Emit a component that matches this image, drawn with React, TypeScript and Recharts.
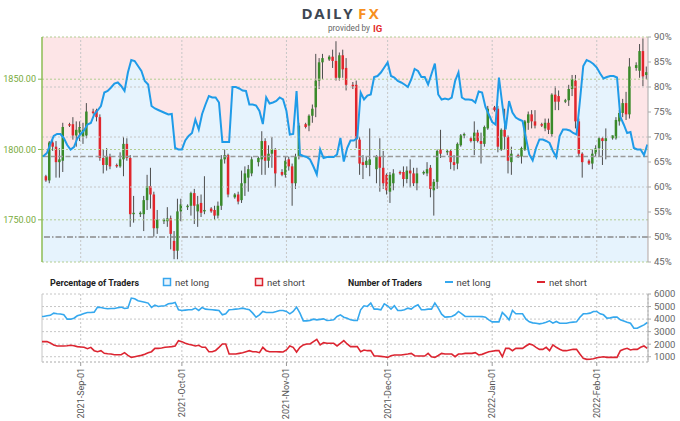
import React from 'react';
import {
  ComposedChart, Bar, Line, Area, XAxis, YAxis, CartesianGrid, ReferenceLine,
} from 'recharts';

// ---------- DATA ----------
const CANDLE_DATES = [
  '2021-08-22','2021-08-23','2021-08-24','2021-08-25','2021-08-26','2021-08-27',
  '2021-08-29','2021-08-30','2021-08-31','2021-09-01','2021-09-02','2021-09-03',
  '2021-09-05','2021-09-06','2021-09-07','2021-09-08','2021-09-09','2021-09-10',
  '2021-09-12','2021-09-13','2021-09-14','2021-09-15','2021-09-16','2021-09-17',
  '2021-09-19','2021-09-20','2021-09-21','2021-09-22','2021-09-23','2021-09-24',
  '2021-09-26','2021-09-27','2021-09-28','2021-09-29','2021-09-30','2021-10-01',
  '2021-10-03','2021-10-04','2021-10-05','2021-10-06','2021-10-07','2021-10-08',
  '2021-10-10','2021-10-11','2021-10-12','2021-10-13','2021-10-14','2021-10-15',
  '2021-10-17','2021-10-18','2021-10-19','2021-10-20','2021-10-21','2021-10-22',
  '2021-10-24','2021-10-25','2021-10-26','2021-10-27','2021-10-28','2021-10-29',
  '2021-10-31','2021-11-01','2021-11-02','2021-11-03','2021-11-04','2021-11-05',
  '2021-11-07','2021-11-08','2021-11-09','2021-11-10','2021-11-11','2021-11-12',
  '2021-11-14','2021-11-15','2021-11-16','2021-11-17','2021-11-18','2021-11-19',
  '2021-11-21','2021-11-22','2021-11-23','2021-11-24','2021-11-25','2021-11-26',
  '2021-11-28','2021-11-29','2021-11-30','2021-12-01','2021-12-02','2021-12-03',
  '2021-12-05','2021-12-06','2021-12-07','2021-12-08','2021-12-09','2021-12-10',
  '2021-12-12','2021-12-13','2021-12-14','2021-12-15','2021-12-16','2021-12-17',
  '2021-12-19','2021-12-20','2021-12-21','2021-12-22','2021-12-23','2021-12-24',
  '2021-12-26','2021-12-27','2021-12-28','2021-12-29','2021-12-30','2021-12-31',
  '2022-01-02','2022-01-03','2022-01-04','2022-01-05','2022-01-06','2022-01-07',
  '2022-01-09','2022-01-10','2022-01-11','2022-01-12','2022-01-13','2022-01-14',
  '2022-01-16','2022-01-17','2022-01-18','2022-01-19','2022-01-20','2022-01-21',
  '2022-01-23','2022-01-24','2022-01-25','2022-01-26','2022-01-27','2022-01-28',
  '2022-01-30','2022-01-31','2022-02-01','2022-02-02','2022-02-03','2022-02-04',
  '2022-02-06','2022-02-07','2022-02-08','2022-02-09','2022-02-10','2022-02-11',
  '2022-02-13','2022-02-14','2022-02-15','2022-02-16',
];
const OPEN = [
  1781,1778,1805,1802,1791,1792, 1818,1818,1810,1812,1809,1810, 1827,1828,1823,1794,1789,1795,
  1789,1788,1793,1804,1794,1754, 1754,1754,1764,1774,1768,1744, 1749,1749,1751,1735,1728,1756,
  1759,1760,1769,1756,1762,1756, 1758,1757,1753,1760,1793,1796, 1766,1768,1764,1776,1780,1783,
  1791,1793,1806,1792,1797,1800, 1784,1782,1793,1788,1776,1795, 1818,1817,1824,1830,1849,1862,
  1864,1866,1863,1851,1867,1858, 1846,1846,1807,1791,1789,1789, 1786,1795,1787,1782,1770,1776,
  1784,1784,1779,1785,1783,1776, 1783,1783,1787,1771,1777,1800, 1798,1799,1791,1790,1803,1810,
  1808,1806,1812,1806,1804,1815, 1830,1829,1800,1814,1809,1791, 1796,1795,1800,1819,1825,1820,
  1818,1815,1819,1811,1839,1838, 1834,1835,1843,1849,1820,1797, 1792,1790,1797,1801,1808,1806,
  1808,1808,1820,1826,1833,1825, 1858,1856,1870,1853,
];
const HIGH = [
  1782,1806,1807,1806,1801,1819, 1819,1823,1820,1820,1819,1833, 1829,1829,1825,1800,1801,1797,
  1790,1798,1809,1808,1796,1767, 1756,1767,1782,1787,1770,1757, 1751,1759,1753,1742,1765,1765,
  1761,1770,1772,1767,1768,1781, 1759,1760,1763,1796,1800,1797, 1769,1770,1785,1788,1789,1795,
  1795,1813,1808,1803,1809,1801, 1786,1795,1795,1790,1797,1819, 1819,1825,1832,1868,1865,1868,
  1867,1871,1877,1869,1871,1865, 1848,1849,1809,1796,1795,1815, 1796,1808,1799,1783,1784,1786,
  1785,1788,1788,1793,1787,1787, 1785,1791,1789,1779,1800,1814, 1800,1800,1796,1805,1811,1812,
  1809,1820,1814,1812,1817,1831, 1831,1831,1815,1829,1810,1802, 1797,1802,1821,1827,1828,1828,
  1819,1822,1822,1840,1845,1842, 1836,1846,1853,1853,1822,1798, 1793,1800,1803,1809,1809,1815,
  1810,1823,1828,1836,1841,1865, 1862,1875,1879,1859,
];
const LOW = [
  1777,1776,1799,1780,1780,1784, 1816,1807,1802,1806,1804,1808, 1825,1820,1792,1783,1785,1786,
  1787,1787,1781,1792,1745,1748, 1752,1742,1757,1758,1738,1740, 1747,1745,1729,1722,1722,1749,
  1757,1753,1747,1745,1752,1754, 1755,1750,1751,1757,1790,1766, 1765,1761,1762,1767,1770,1781,
  1788,1782,1782,1787,1787,1773, 1781,1780,1785,1760,1772,1793, 1815,1813,1819,1823,1843,1850,
  1863,1858,1849,1849,1851,1842, 1843,1801,1782,1779,1787,1781, 1776,1770,1772,1768,1762,1771,
  1782,1773,1776,1773,1774,1771, 1782,1781,1766,1753,1772,1794, 1796,1786,1785,1786,1802,1808,
  1805,1796,1805,1790,1802,1814, 1827,1798,1799,1800,1783,1782, 1794,1790,1799,1814,1815,1815,
  1816,1813,1811,1809,1828,1828, 1833,1831,1838,1815,1795,1780, 1789,1786,1795,1795,1789,1793,
  1807,1807,1817,1823,1821,1822, 1856,1851,1845,1850,
];
const CLOSE = [
  1778,1805,1802,1791,1793,1816, 1817,1810,1814,1816,1814,1827, 1826,1823,1794,1789,1795,1788,
  1788,1793,1804,1794,1754,1755, 1755,1764,1774,1768,1744,1750, 1750,1751,1740,1728,1756,1761,
  1760,1769,1760,1761,1755,1757, 1756,1753,1760,1793,1796,1768, 1768,1763,1776,1783,1786,1793,
  1794,1806,1792,1797,1800,1783, 1782,1792,1788,1776,1795,1817, 1816,1824,1829,1849,1862,1865,
  1866,1863,1851,1867,1857,1846, 1845,1807,1790,1789,1792,1793, 1795,1787,1776,1771,1782,1783,
  1783,1779,1785,1783,1776,1783, 1784,1786,1772,1777,1799,1797, 1799,1791,1789,1804,1810,1811,
  1806,1812,1806,1804,1816,1829, 1828,1802,1814,1809,1792,1797, 1795,1801,1820,1825,1820,1817,
  1817,1819,1814,1839,1834,1834, 1835,1843,1850,1820,1797,1791, 1790,1797,1801,1808,1806,1808,
  1810,1821,1826,1833,1825,1859, 1860,1870,1852,1855,
];

// daily sentiment series, one value per calendar day starting at SENT_START
const SENT_START = '2021-08-20';
const NET_LONG_PCT = [
  66.2,66.2,66.8,68.6,70.2,70.6,70.6,69.8,68.4,67.5,68.0,69.7,
  70.6,71.3,72.5,72.8,74.5,75.3,76.2,78.9,79.2,79.9,
  80.7,80.9,80.2,79.2,82.9,85.4,85.2,84.2,83.2,81.2,
  80.5,76.2,75.7,75.4,75.1,74.8,74.5,74.6,67.8,67.5,
  67.5,69.3,70.2,70.8,73.5,71.5,74.6,76.5,78.2,77.9,
  77.9,76.9,69.0,69.0,69.0,80.0,80.0,79.7,79.3,79.2,
  76.5,76.5,76.3,75.2,72.6,77.9,76.7,76.9,77.2,77.9,
  77.5,75.2,70.5,70.6,79.2,66.5,66.2,66.0,65.5,64.1,
  62.5,67.5,65.8,66.0,66.0,66.0,66.5,69.8,65.1,67.8,
  69.3,69.3,69.8,78.9,77.5,78.3,78.5,82.0,82.2,82.9,
  83.9,84.9,82.2,81.9,81.2,80.9,80.5,80.0,81.5,83.6,
  83.2,82.0,82.0,80.5,82.6,84.7,78.5,77.5,77.7,77.5,
  77.9,81.2,82.9,77.9,77.5,77.5,77.4,76.9,79.1,78.9,
  76.0,74.5,73.0,72.5,81.9,76.5,71.5,77.2,74.9,73.9,
  73.5,73.2,69.8,66.5,65.3,67.8,69.5,69.5,69.2,68.8,
  67.2,66.0,70.2,71.5,71.5,71.3,70.8,70.5,77.2,84.2,
  85.4,85.1,84.6,83.9,82.7,81.7,82.0,82.2,82.2,81.9,
  74.0,72.5,70.8,71.0,67.8,67.5,67.5,66.4,68.5,
];
const LONG_COUNT = [
  4207,4207,4261,4300,4474,4421,4400,4341,3994,3994,4074,4261,
  4341,4450,4528,4528,4555,4955,4928,4870,4822,4840,
  4848,4900,4955,4848,4875,5676,5623,5463,5409,5350,
  5276,4928,5115,5009,5040,5062,5222,5250,5329,4741,
  4688,4715,4741,4741,4875,4688,4928,4795,4770,4741,
  4715,4688,4341,4421,4741,4760,4795,4830,4875,4800,
  4741,4474,4154,4341,4608,4528,4528,4528,4600,4688,
  4688,4608,4421,4608,4955,4474,3860,3860,3900,3994,
  3940,3980,4020,3887,3910,3940,4207,4341,4154,4074,
  3940,3900,3887,4741,5062,5009,5276,4795,4795,4741,
  5222,5062,4795,5062,4688,4688,4741,4875,4795,5009,
  5142,4741,4741,4795,4795,5276,4875,4394,4154,4180,
  4207,4341,4608,4421,4207,4207,4207,4207,4207,4200,
  4154,3940,3780,3780,3780,4528,4261,3940,4688,4421,
  4421,4421,3994,3780,3700,3673,3620,3673,3750,3860,
  3673,3807,3673,3673,3673,3727,3760,3780,4154,4421,
  4421,4474,4608,4608,4421,4341,4074,4100,4154,4154,
  3940,3850,3753,3673,3272,3272,3406,3540,3727,
];
const SHORT_COUNT = [
  2204,2204,2204,2100,1938,1857,1857,1857,1880,1910,1870,1804,
  1780,1750,1644,1750,1483,1403,1483,1270,1240,1216,
  1163,1163,1163,1323,1109,949,1000,1056,1109,1200,
  1323,1403,1670,1670,1700,1750,1780,1804,1857,2284,
  2204,2070,2000,1938,1857,1910,1750,1750,1403,1403,
  1500,1750,2017,2017,1216,1216,1216,1270,1323,1400,
  1483,1403,1403,1323,1750,1483,1403,1403,1403,1390,
  1376,1537,1857,1750,1376,1750,1938,2017,2017,2204,
  2391,1938,2124,2070,2070,2070,1857,2070,2284,2017,
  1804,1804,1804,1403,1537,1483,1483,1056,1056,1030,
  1002,949,1082,1136,1136,1136,1180,1216,1270,1082,
  1056,1056,1056,1270,1002,949,1100,1270,1216,1216,
  1216,1002,1216,1216,1270,1270,1270,1323,1136,1189,
  1300,1403,1440,1483,1483,1002,1670,1670,1483,1670,
  1670,1670,1857,2017,1938,1750,1590,1590,1750,1483,
  1938,1750,1600,1483,1483,1540,1590,1590,1216,869,
  789,800,842,922,960,1002,949,949,949,949,
  1483,1600,1670,1537,1590,1590,1750,1857,1670,
];

const MONTH_DATES = ['2021-09-01','2021-10-01','2021-11-01','2021-12-01','2022-01-01','2022-02-01'];
const MONTH_LABELS = ['2021-Sep-01','2021-Oct-01','2021-Nov-01','2021-Dec-01','2022-Jan-01','2022-Feb-01'];
const PRICE_TICKS = [1750, 1800, 1850];
const PCT_TICKS = [45, 50, 55, 60, 65, 70, 75, 80, 85, 90];
const PCT_GRID = [80, 70, 60];
const COUNT_TICKS = [1000, 2000, 3000, 4000, 5000, 6000];
const NEUTRAL_PCT = 50;
const MARKER_PCT = 66.1;

// ---------- helpers ----------
const DAY0 = Date.UTC(2021, 8, 1);
const dayNum = (s: string) => {
  const [y, m, d] = s.split('-').map(Number);
  return (Date.UTC(y, m - 1, d) - DAY0) / 86400000;
};
const X_MIN = -11.47;
const X_MAX = 168.19;

const candles = CANDLE_DATES.map((d, i) => ({
  t: dayNum(d) - 0.3,
  range: [LOW[i], HIGH[i]],
  open: OPEN[i], high: HIGH[i], low: LOW[i], close: CLOSE[i],
}));
const sentiment = NET_LONG_PCT.map((v, i) => ({
  t: dayNum(SENT_START) + i,
  pct: v,
  long: LONG_COUNT[i],
  short: SHORT_COUNT[i],
}));
const MONTH_T = MONTH_DATES.map(dayNum);

const Candle = (props: any) => {
  const { x, y, width, height, payload } = props;
  if (x == null || y == null || !payload) return null;
  const { open, close, high, low } = payload;
  const per = height / (high - low || 1);
  const yOf = (v: number) => y + (high - v) * per;
  const up = close >= open;
  const top = yOf(Math.max(open, close));
  const bot = yOf(Math.min(open, close));
  const cx = x + width / 2;
  return (
    <g>
      <line x1={cx} x2={cx} y1={y} y2={y + height} stroke="#4d4d4d" strokeWidth={1} />
      <rect x={cx - 1.25} y={top} width={2.5} height={Math.max(bot - top, 1.2)}
        fill={up ? '#3a8a2a' : '#e1262d'} />
    </g>
  );
};

const MonthTick = (props: any) => {
  const { x, y, payload } = props;
  const idx = MONTH_T.indexOf(payload.value);
  const label = idx >= 0 ? MONTH_LABELS[idx] : '';
  return (
    <text transform={`translate(${x},${y}) rotate(-90)`} textAnchor="end"
      dominantBaseline="central" fontSize={9} fill="#555" fontFamily="Roboto, sans-serif">
      {label}
    </text>
  );
};

const GREEN = '#78aa3c';
const GREEN_GRID = '#b2cd92';
const GRAY_GRID = '#c6c6c6';

export default function App() {
  return (
    <div style={{ position: 'relative', width: 680, height: 421, background: '#fff', overflow: 'hidden' }}>
      <style>{`body{margin:0}`}</style>
      <div style={{ position: 'absolute', left: 0, top: 0 }}>
        <ComposedChart width={680} height={270} data={candles}
          margin={{ top: 37, right: 0, bottom: 8, left: 0 }}>
          <CartesianGrid yAxisId="pct" horizontal={false} vertical={false}
            fill="#fde5e7" fillOpacity={1} stroke="none" />
          <XAxis dataKey="t" type="number" domain={[X_MIN, X_MAX]} allowDataOverflow hide />
          <YAxis yAxisId="price" orientation="left" domain={[1720, 1880]} ticks={PRICE_TICKS}
            width={42} tickSize={4} tickMargin={2} interval={0}
            tickFormatter={(v: number) => v.toFixed(2)}
            tick={{ fill: GREEN, fontSize: 9, fontFamily: 'Roboto, sans-serif' }}
            axisLine={{ stroke: '#8cbc55', strokeWidth: 1.5 }} tickLine={{ stroke: '#8cbc55' }} />
          <YAxis yAxisId="pct" orientation="right" domain={[45, 90]} ticks={PCT_TICKS}
            width={32} tickSize={3} tickMargin={3} interval={0}
            tickFormatter={(v: number) => `${v}%`}
            tick={{ fill: '#666', fontSize: 9.5, fontFamily: 'Roboto, sans-serif' }}
            axisLine={{ stroke: '#aaa' }} tickLine={{ stroke: '#aaa' }} />
          <Area yAxisId="pct" data={sentiment} dataKey="pct" type="linear" stroke="none"
            fill="#e6f3fd" fillOpacity={1} isAnimationActive={false} />
          {MONTH_T.map((t) => (
            <ReferenceLine key={`v${t}`} yAxisId="pct" x={t} stroke={GRAY_GRID} strokeDasharray="2 2" />
          ))}
          {PCT_GRID.map((p) => (
            <ReferenceLine key={`p${p}`} yAxisId="pct" y={p} stroke={GRAY_GRID} strokeDasharray="2 2" />
          ))}
          {[45, 90].map((p) => (
            <ReferenceLine key={`b${p}`} yAxisId="pct" y={p} stroke={GREEN_GRID} strokeDasharray="2 2" />
          ))}
          {PRICE_TICKS.map((p) => (
            <ReferenceLine key={`g${p}`} yAxisId="price" y={p} stroke={GREEN_GRID} strokeDasharray="2 2" />
          ))}
          <ReferenceLine yAxisId="pct" y={NEUTRAL_PCT} stroke="#8a8a8a" strokeWidth={1.5}
            strokeDasharray="6 2 1.5 2" />
          <ReferenceLine yAxisId="pct" y={MARKER_PCT} stroke="#9a9a9a" strokeWidth={1.5}
            strokeDasharray="5 2.5" />
          <Bar yAxisId="price" dataKey="range" barSize={3} shape={<Candle />} isAnimationActive={false} />
          <Line yAxisId="pct" data={sentiment} dataKey="pct" type="linear" stroke="#1f9be8"
            strokeWidth={2} dot={false} activeDot={false} isAnimationActive={false} />
        </ComposedChart>
      </div>
      <div style={{ position: 'absolute', left: 0, top: 270 }}>
        <ComposedChart width={680} height={151} data={sentiment}
          margin={{ top: 24, right: 0, bottom: 0, left: 42 }}>
          <CartesianGrid yAxisId="n" stroke={GRAY_GRID} strokeDasharray="2 2" />
          <XAxis dataKey="t" type="number" domain={[X_MIN, X_MAX]} allowDataOverflow
            ticks={MONTH_T} interval={0} tick={<MonthTick />} tickSize={4} tickMargin={2}
            tickLine={{ stroke: '#999' }} axisLine={false} height={59} />
          <YAxis yAxisId="n" orientation="right" domain={[580, 6000]} ticks={COUNT_TICKS}
            width={32} tickSize={3} tickMargin={3} interval={0}
            tick={{ fill: '#666', fontSize: 9.5, fontFamily: 'Roboto, sans-serif' }}
            axisLine={{ stroke: '#aaa' }} tickLine={{ stroke: '#aaa' }} />
          <ReferenceLine yAxisId="n" x={X_MIN} stroke={GRAY_GRID} strokeDasharray="2 2" />
          <ReferenceLine yAxisId="n" y={580} stroke={GRAY_GRID} strokeDasharray="2 2" />
          <Line yAxisId="n" dataKey="long" type="linear" stroke="#35a8ee" strokeWidth={1.6}
            dot={false} activeDot={false} isAnimationActive={false} />
          <Line yAxisId="n" dataKey="short" type="linear" stroke="#dc2531" strokeWidth={1.6}
            dot={false} activeDot={false} isAnimationActive={false} />
        </ComposedChart>
      </div>
      <svg width={680} height={421} style={{ position: 'absolute', left: 0, top: 0, pointerEvents: 'none' }}
        fontFamily="Roboto, sans-serif">
        <text x={301.5} y={19} fontSize={15} fontWeight={700} fill="#3d4753"
          textLength={51} lengthAdjust="spacing" fontFamily="'Open Sans', sans-serif">DAILY</text>
        <text x={358} y={19} fontSize={15} fontWeight={700} fill="#f7901e"
          letterSpacing={2.5} fontFamily="'Open Sans', sans-serif">FX</text>
        <text x={328} y={31} fontSize={8.5} fill="#666" textLength={42}
          lengthAdjust="spacingAndGlyphs">provided by</text>
        <text x={373} y={32} fontSize={9.5} fontWeight={700} fill="#e42b2b">IG</text>

        <text x={50} y={285.5} fontSize={9} fontWeight={700} fill="#222"
          textLength={89} lengthAdjust="spacingAndGlyphs">Percentage of Traders</text>
        <rect x={163.5} y={278.5} width={7} height={7} fill="#e8f4fd" stroke="#38a6ee" strokeWidth={1.5} />
        <text x={175} y={285.5} fontSize={9.5} fill="#444">net long</text>
        <rect x={255.5} y={278.5} width={7} height={7} fill="#fde6e7" stroke="#d9232e" strokeWidth={1.5} />
        <text x={267} y={285.5} fontSize={9.5} fill="#444">net short</text>

        <text x={348} y={285.5} fontSize={9} fontWeight={700} fill="#222"
          textLength={74} lengthAdjust="spacingAndGlyphs">Number of Traders</text>
        <line x1={445} x2={453} y1={282} y2={282} stroke="#35a8ee" strokeWidth={2} />
        <text x={456.5} y={285.5} fontSize={9.5} fill="#444">net long</text>
        <line x1={537} x2={545} y1={282} y2={282} stroke="#dc2531" strokeWidth={2} />
        <text x={549} y={285.5} fontSize={9.5} fill="#444">net short</text>
      </svg>
    </div>
  );
}
